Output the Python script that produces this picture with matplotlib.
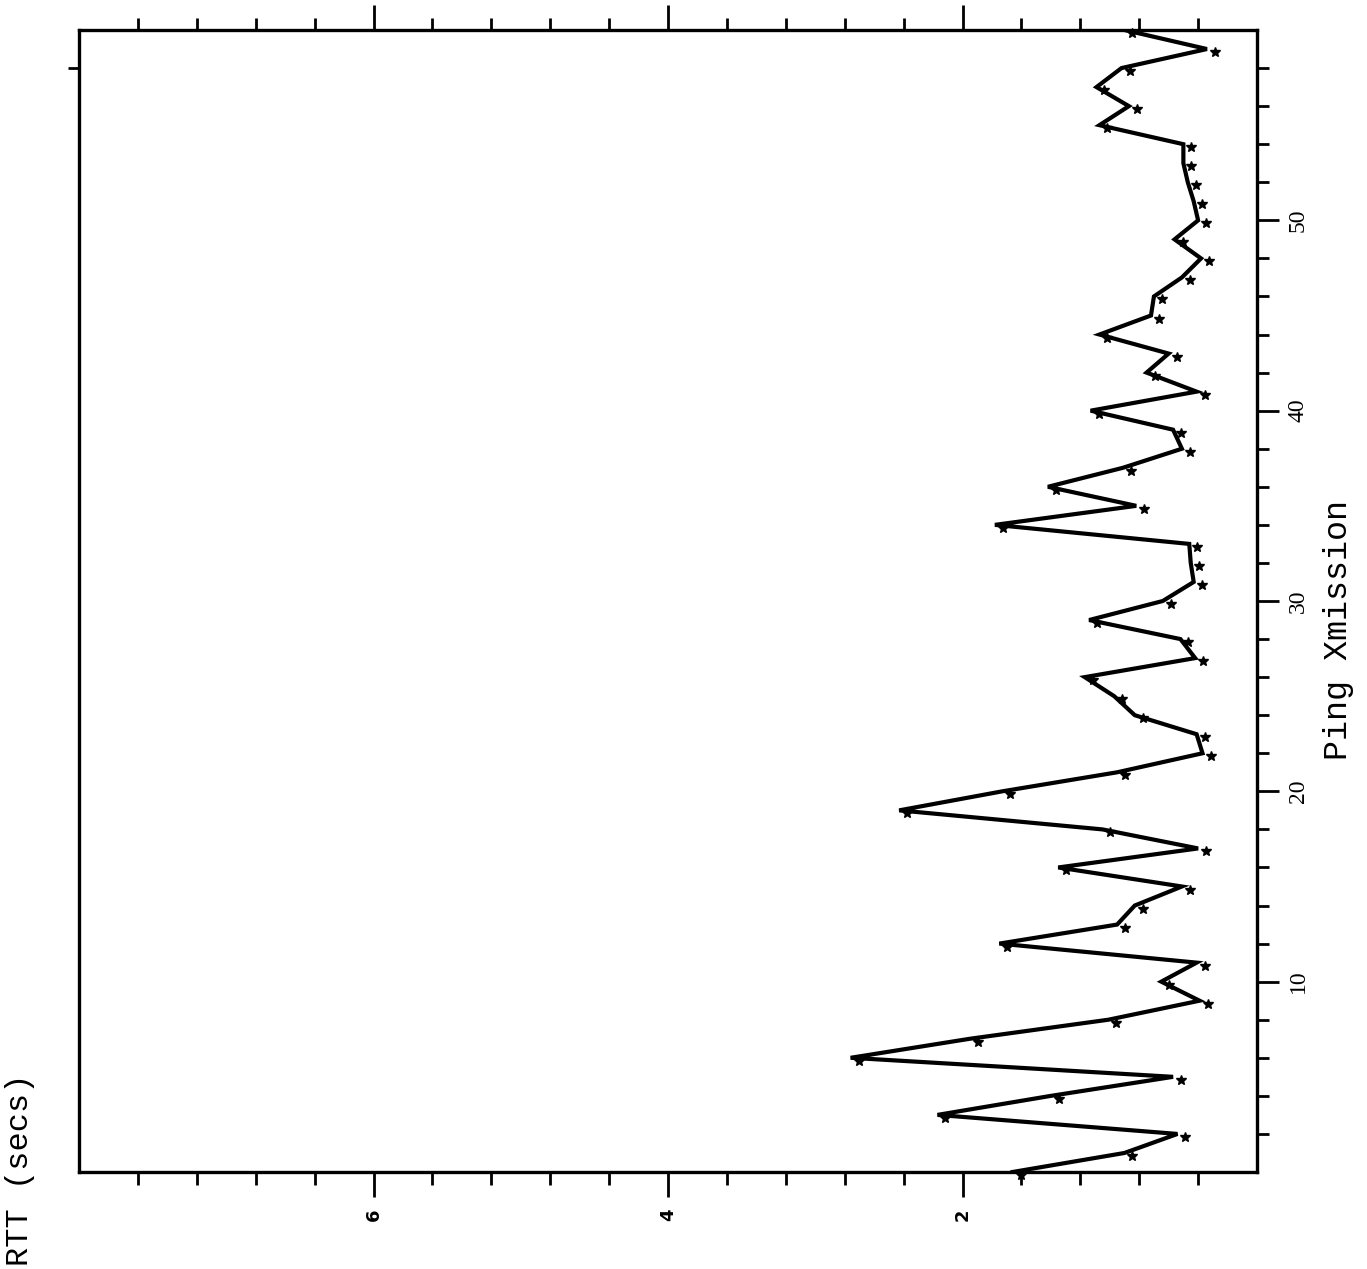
import matplotlib
matplotlib.use("Agg")
import matplotlib.pyplot as plt
from matplotlib import transforms
from matplotlib.ticker import FixedLocator, NullFormatter, FixedFormatter

# Ping transmission number (vertical axis) and round trip time in seconds
ping = list(range(0, 61))
rtt = [1.66, 0.90, 0.54, 2.17, 1.40, 0.57, 2.76, 1.95, 1.01, 0.39,
       0.65, 0.41, 1.75, 0.95, 0.83, 0.51, 1.35, 0.40, 1.05, 2.43,
       1.73, 0.95, 0.37, 0.41, 0.83, 0.97, 1.17, 0.42, 0.52, 1.14,
       0.64, 0.43, 0.45, 0.46, 1.78, 0.82, 1.42, 0.91, 0.51, 0.57,
       1.13, 0.41, 0.75, 0.60, 1.07, 0.72, 0.70, 0.51, 0.38, 0.56,
       0.40, 0.43, 0.47, 0.50, 0.50, 1.07, 0.87, 1.09, 0.92, 0.34,
       0.90]

rtt_major = [2, 4, 6]
rtt_minor = [0.4, 0.8, 1.2, 1.6, 2.4, 2.8, 3.2, 3.6, 4.4, 4.8, 5.2, 5.6,
             6.4, 6.8, 7.2, 7.6]
rtt_labels = ["2", "4", "6"]
ping_major = [10, 20, 30, 40, 50]
ping_minor = [2, 4, 6, 8, 12, 14, 16, 18, 22, 24, 26, 28, 32, 34, 36, 38,
              42, 44, 46, 48, 52, 54, 56, 58]
ping_labels = ["10", "20", "30", "40", "50"]

W, H = 1367, 1269
fig = plt.figure(figsize=(W / 100, H / 100), dpi=100)
L, R, T, B = 79, 1257, 30, 1172
ax = fig.add_axes([L / W, 1 - B / H, (R - L) / W, (B - T) / H])

ax.plot(rtt, ping, color="black", lw=3.0, solid_joinstyle="miter")
star_tr = transforms.offset_copy(ax.transData, fig=fig, x=8, y=-3, units="dots")
ax.plot(rtt, ping, ls="none", marker="*", ms=7, color="black",
        transform=star_tr, clip_on=False)

ax.set_xlim(8.0, 0)
ax.set_ylim(0, 60)

for s in ax.spines.values():
    s.set_linewidth(2.4)

# RTT axis (horizontal, increasing to the left)
ax.xaxis.set_major_locator(FixedLocator(rtt_major))
ax.xaxis.set_minor_locator(FixedLocator(rtt_minor))
ax.xaxis.set_major_formatter(FixedFormatter(rtt_labels))
ax.xaxis.set_minor_formatter(NullFormatter())
ax.tick_params(axis="x", which="both", direction="out", top=True, bottom=True,
               width=2.0, labelsize=13, pad=8)
ax.tick_params(axis="x", which="major", length=18)
ax.tick_params(axis="x", which="minor", length=9)
for t in ax.get_xticklabels():
    t.set_rotation(90)
    t.set_fontweight("bold")
    t.set_family("DejaVu Sans")

# Ping axis (vertical, ticks on the right)
ax.yaxis.set_major_locator(FixedLocator(ping_major))
ax.yaxis.set_minor_locator(FixedLocator(ping_minor))
ax.yaxis.set_major_formatter(FixedFormatter(ping_labels))
ax.yaxis.set_minor_formatter(NullFormatter())
ax.yaxis.tick_right()
ax.tick_params(axis="y", which="both", direction="out", left=False, right=True,
               width=2.0, labelsize=17, pad=6)
ax.tick_params(axis="y", which="major", length=16)
ax.tick_params(axis="y", which="minor", length=8.5)
for t in ax.get_yticklabels():
    t.set_rotation(90)
    t.set_va("center")
    t.set_family("Liberation Serif")

# single tick on the left side near the top
sec = ax.secondary_yaxis("left")
sec.set_yticks([58])
sec.set_yticklabels([""])
sec.tick_params(axis="y", direction="out", length=8, width=2.0)
sec.spines["left"].set_visible(False)

fig.text(1338 / W, 1 - 630 / H, "Ping Xmission", rotation=90,
         family="Liberation Mono", fontsize=24, ha="center", va="center")
fig.text(20 / W, 1 - 1170 / H, "RTT (secs)", rotation=90,
         family="Liberation Mono", fontsize=23, ha="center", va="center")

fig.savefig("out.png", dpi=100, facecolor="white")
